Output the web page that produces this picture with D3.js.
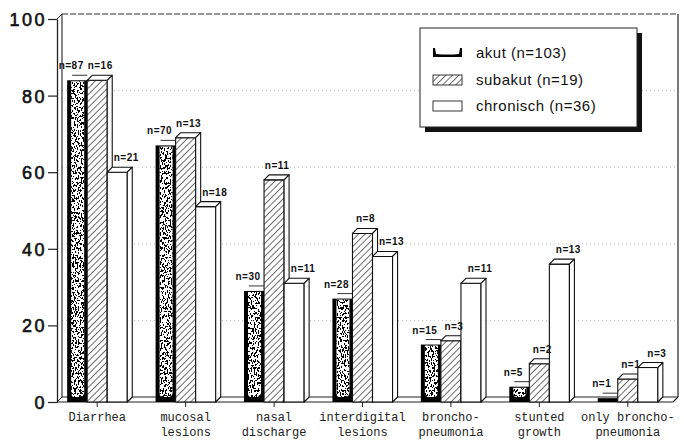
<!DOCTYPE html>
<html><head><meta charset="utf-8">
<script src="https://cdn.jsdelivr.net/npm/d3@7"></script>
<style>html,body{margin:0;padding:0;background:#fff;} svg{display:block;}</style>
</head><body>
<svg id="chart" width="684" height="445"></svg>
<script>
// ---------- data ----------
const categories = ["Diarrhea","mucosal lesions","nasal discharge","interdigital lesions","broncho-pneumonia","stunted growth","only broncho-pneumonia"];
const categoryLines = [["Diarrhea"],["mucosal","lesions"],["nasal","discharge"],["interdigital","lesions"],["broncho-","pneumonia"],["stunted","growth"],["only broncho-","pneumonia"]];
const seriesNames = ["akut","subakut","chronisch"];
const legendLabels = ["akut (n=103)","subakut (n=19)","chronisch (n=36)"];
const akut      = [84, 67, 29, 27, 15, 4, 1];
const subakut   = [84, 69, 58, 44, 16, 10, 6];
const chronisch = [60, 51, 31, 38, 31, 36, 9];
const akutN      = ["n=87","n=70","n=30","n=28","n=15","n=5","n=1"];
const subakutN   = ["n=16","n=13","n=11","n=8","n=3","n=2","n=1"];
const chronischN = ["n=21","n=18","n=11","n=13","n=11","n=13","n=3"];
const yTicks = [0,20,40,60,80,100];

// ---------- layout ----------
const svg = d3.select("#chart");
const D = 5; // 3D depth
const axisX = 57, rightX = 673;
const y = d3.scaleLinear().domain([0,100]).range([402,19]);
const x = d3.scaleBand().domain(categories).range([53,672]).paddingInner(0.32).paddingOuter(0.16);
const xs = d3.scaleBand().domain(seriesNames).range([0, x.bandwidth()]);
const labelDx = {akut:-6, subakut:3, chronisch:9};

// ---------- patterns ----------
const defs = svg.append("defs");
const hatch = defs.append("pattern").attr("id","hatch").attr("patternUnits","userSpaceOnUse")
  .attr("width",4.6).attr("height",4.6).attr("patternTransform","rotate(45)");
hatch.append("rect").attr("width",4.6).attr("height",4.6).attr("fill","#fff");
hatch.append("line").attr("x1",0).attr("y1",0).attr("x2",0).attr("y2",4.6).attr("stroke","#111").attr("stroke-width",1.2);

const nf = defs.append("filter").attr("id","noise").attr("x",0).attr("y",0).attr("width","100%").attr("height","100%");
nf.append("feTurbulence").attr("type","fractalNoise").attr("baseFrequency","0.7 0.4").attr("numOctaves",2).attr("seed",7).attr("result","t");
nf.append("feColorMatrix").attr("in","t").attr("type","matrix")
  .attr("values","0 0 0 0 0  0 0 0 0 0  0 0 0 0 0  1 0 0 0 0").attr("result","a");
const ct = nf.append("feComponentTransfer").attr("in","a").attr("result","b");
ct.append("feFuncA").attr("type","discrete").attr("tableValues","0 0 0 0 0 0 1 1 1 1 1");
nf.append("feComposite").attr("in","b").attr("in2","SourceGraphic").attr("operator","in");

// ---------- frame ----------
const g = svg.append("g");
const backTop = y(100) - D, backBot = y(0) - D;
g.selectAll("line.grid").data(yTicks.filter(v => v > 0 && v < 100)).enter().append("line")
  .attr("x1", axisX + D).attr("x2", rightX + D).attr("y1", d => y(d) - D).attr("y2", d => y(d) - D)
  .attr("stroke","#aaa").attr("stroke-width",0.8).attr("stroke-dasharray","1,3");
g.append("line").attr("x1",axisX+D).attr("x2",rightX+D).attr("y1",backTop).attr("y2",backTop)
  .attr("stroke","#333").attr("stroke-width",1).attr("stroke-dasharray","6,2");
g.append("line").attr("x1",axisX+D).attr("x2",axisX+D).attr("y1",backTop).attr("y2",backBot).attr("stroke","#222").attr("stroke-width",1.1);
g.append("line").attr("x1",rightX+D).attr("x2",rightX+D).attr("y1",backTop).attr("y2",backBot).attr("stroke","#222").attr("stroke-width",1.2);
g.append("line").attr("x1",axisX).attr("y1",y(100)).attr("x2",axisX+D).attr("y2",backTop).attr("stroke","#222");
g.append("line").attr("x1",axisX+D).attr("x2",rightX+D).attr("y1",backBot).attr("y2",backBot).attr("stroke","#222").attr("stroke-width",1.1);
g.append("line").attr("x1",axisX).attr("x2",rightX).attr("y1",y(0)).attr("y2",y(0)).attr("stroke","#222").attr("stroke-width",1.2);
g.append("line").attr("x1",rightX).attr("y1",y(0)).attr("x2",rightX+D).attr("y2",backBot).attr("stroke","#222").attr("stroke-width",1.1);
g.append("line").attr("x1",axisX).attr("y1",y(0)).attr("x2",axisX+D).attr("y2",backBot).attr("stroke","#222").attr("stroke-width",1);

// y axis
const yAxis = d3.axisLeft(y).tickValues(yTicks).tickSize(9).tickSizeOuter(0).tickPadding(1).tickFormat(d3.format("d"));
const ya = svg.append("g").attr("transform",`translate(${axisX},0)`).call(yAxis);
ya.select(".domain").attr("stroke","#222").attr("stroke-width",1.3);
ya.selectAll(".tick line").attr("stroke","#222").attr("stroke-width",1.2);
ya.selectAll(".tick text").attr("font-family","Liberation Sans, Arial, sans-serif").attr("font-size",18)
  .attr("letter-spacing","2.5px").attr("fill","#111").attr("stroke","#111").attr("stroke-width",0.6).attr("dy","0.36em");

// x ticks
g.selectAll("line.xt").data(categories).enter().append("line")
  .attr("x1", d => x(d) + x.bandwidth()/2).attr("x2", d => x(d) + x.bandwidth()/2)
  .attr("y1", y(0)).attr("y2", y(0) + 5).attr("stroke","#222");

// x labels
categories.forEach((c, i) => {
  const t = svg.append("text").attr("x", x(c) + x.bandwidth()/2).attr("text-anchor","middle")
    .attr("font-family","Liberation Mono, DejaVu Sans Mono, monospace").attr("font-size",12).attr("fill","#222");
  categoryLines[i].forEach((ln, k) => t.append("tspan").attr("x", x(c) + x.bandwidth()/2).attr("y", 421 + k*15).text(ln));
});

// ---------- bars ----------
const seriesData = {akut, subakut, chronisch};
const seriesLabels = {akut: akutN, subakut: subakutN, chronisch: chronischN};
const bars = svg.append("g");
const labels = svg.append("g");
categories.forEach((c, i) => {
  seriesNames.forEach(s => {
    const v = seriesData[s][i];
    const x0 = x(c) + xs(s), w = xs.bandwidth(), yt = y(v), y0 = y(0);
    const bg = bars.append("g");
    if (s === "akut") {
      bg.append("line").attr("x1", x0 + D).attr("x2", x0 + w).attr("y1", yt - D).attr("y2", yt - D)
        .attr("stroke","#333").attr("stroke-width",1);
      bg.append("rect").attr("x", x0).attr("y", yt).attr("width", w).attr("height", y0 - yt).attr("fill","#000");
      if ((y0 - 5) - (yt + 1) > 3) {
        const d = `M${x0+4},${yt+1} L${x0+w-3},${yt+1} L${x0+w-3},${y0-9} Q${x0+w-4},${y0-5} ${x0+w-7},${y0-5} L${x0+7},${y0-5} Q${x0+4},${y0-5} ${x0+4},${y0-9} Z`;
        bg.append("path").attr("d", d).attr("fill","#fff");
        bg.append("path").attr("d", d).attr("fill","#000").attr("filter","url(#noise)");
      }
    } else {
      const fill = s === "subakut" ? "url(#hatch)" : "#fff";
      bg.append("rect").attr("x", x0).attr("y", yt).attr("width", w).attr("height", y0 - yt)
        .attr("fill", fill).attr("stroke","#111").attr("stroke-width",1.1);
      bg.append("path").attr("d", `M${x0},${yt} L${x0+D},${yt-D} L${x0+w+D},${yt-D} L${x0+w},${yt} Z`)
        .attr("fill","#fff").attr("stroke","#111").attr("stroke-width",1.1).attr("stroke-linejoin","round");
      bg.append("path").attr("d", `M${x0+w},${yt} L${x0+w+D},${yt-D} L${x0+w+D},${y0-D} L${x0+w},${y0} Z`)
        .attr("fill","#fff").attr("stroke","#111").attr("stroke-width",1.1).attr("stroke-linejoin","round");
    }
    labels.append("text").attr("x", x0 + w/2 + labelDx[s]).attr("y", yt - D - 6).attr("text-anchor","middle")
      .attr("font-family","Liberation Sans, Arial, sans-serif").attr("font-size",10).attr("font-weight","bold")
      .attr("letter-spacing","0.5px").attr("fill","#111").text(seriesLabels[s][i]);
  });
});

// ---------- legend ----------
const lg = svg.append("g");
const lx = 420, ly = 28, lw = 217, lh = 99;
lg.append("rect").attr("x", lx+5).attr("y", ly+5).attr("width", lw).attr("height", lh).attr("fill","#111");
lg.append("rect").attr("x", lx).attr("y", ly).attr("width", lw).attr("height", lh).attr("fill","#fff").attr("stroke","#222").attr("stroke-width",1);
const sx = 433, sw = 29;
const rowY = [53, 80, 106];
lg.append("path").attr("d", `M${sx},${rowY[0]-5} L${sx+2},${rowY[0]-5} L${sx+3},${rowY[0]+1} Q${sx+sw/2},${rowY[0]+2} ${sx+sw-3},${rowY[0]+1} L${sx+sw-2},${rowY[0]-5} L${sx+sw},${rowY[0]-5} L${sx+sw},${rowY[0]+4} L${sx},${rowY[0]+4} Z`).attr("fill","#000");
lg.append("rect").attr("x", sx).attr("y", rowY[1]-5).attr("width", sw).attr("height", 10).attr("fill","url(#hatch)").attr("stroke","#222").attr("stroke-width",0.9);
lg.append("rect").attr("x", sx).attr("y", rowY[2]-5).attr("width", sw).attr("height", 10).attr("fill","#fff").attr("stroke","#222").attr("stroke-width",0.9);
legendLabels.forEach((t, k) => {
  lg.append("text").attr("x", 476).attr("y", rowY[k] + 5).attr("font-family","Liberation Sans, Arial, sans-serif")
    .attr("font-size",15).attr("letter-spacing","0.5px").attr("fill","#111").text(t);
});
</script>
</body></html>
